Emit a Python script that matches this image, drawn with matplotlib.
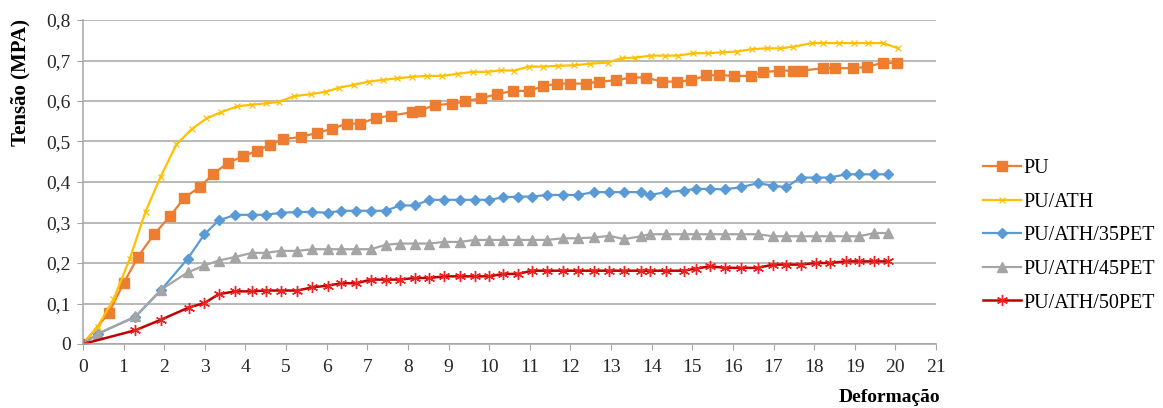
import matplotlib
matplotlib.use("Agg")
import matplotlib.pyplot as plt
from matplotlib.ticker import FuncFormatter, MultipleLocator

plt.rcParams["font.family"] = ["Liberation Serif", "DejaVu Serif"]

# values (deformation, stress in MPa)
pu_x = [0, 0.63, 1.0, 1.35, 1.75, 2.15, 2.49, 2.87, 3.2, 3.56, 3.93, 4.28, 4.61, 4.93,
        5.36, 5.75, 6.12, 6.49, 6.82, 7.21, 7.58, 8.09, 8.29, 8.66, 9.08, 9.41, 9.8,
        10.2, 10.58, 10.97, 11.32, 11.67, 12.0, 12.39, 12.7, 13.11, 13.5, 13.85, 14.25,
        14.62, 14.98, 15.34, 15.65, 16.03, 16.44, 16.75, 17.14, 17.49, 17.69, 18.23,
        18.51, 18.95, 19.31, 19.69, 20.05]
pu_y = [0, 0.076, 0.15, 0.215, 0.271, 0.316, 0.361, 0.387, 0.419, 0.447, 0.463, 0.477,
        0.492, 0.506, 0.511, 0.521, 0.531, 0.544, 0.544, 0.558, 0.564, 0.572, 0.576,
        0.590, 0.593, 0.599, 0.607, 0.617, 0.625, 0.625, 0.636, 0.643, 0.643, 0.643,
        0.648, 0.651, 0.658, 0.658, 0.648, 0.648, 0.651, 0.663, 0.664, 0.662, 0.662,
        0.671, 0.675, 0.675, 0.675, 0.681, 0.681, 0.681, 0.684, 0.695, 0.693]

ath_x = [0, 0.36, 0.75, 1.15, 1.54, 1.91, 2.3, 2.68, 3.04, 3.39, 3.8, 4.17, 4.5, 4.83,
         5.2, 5.61, 5.98, 6.31, 6.67, 7.04, 7.39, 7.74, 8.11, 8.48, 8.85, 9.22, 9.59,
         9.96, 10.29, 10.62, 10.97, 11.32, 11.69, 12.08, 12.47, 12.92, 13.27, 13.58,
         13.99, 14.32, 14.65, 15.02, 15.39, 15.72, 16.09, 16.46, 16.83, 17.16, 17.49,
         17.94, 18.23, 18.6, 18.97, 19.33, 19.7, 20.07]
ath_y = [0, 0.043, 0.11, 0.21, 0.327, 0.413, 0.493, 0.531, 0.557, 0.572, 0.587, 0.591,
         0.594, 0.598, 0.612, 0.617, 0.623, 0.633, 0.640, 0.648, 0.652, 0.656, 0.660,
         0.662, 0.662, 0.667, 0.672, 0.672, 0.676, 0.675, 0.685, 0.685, 0.687, 0.688,
         0.692, 0.695, 0.706, 0.707, 0.712, 0.712, 0.712, 0.718, 0.718, 0.720, 0.722,
         0.728, 0.730, 0.730, 0.734, 0.743, 0.743, 0.743, 0.743, 0.743, 0.743, 0.730]

p35_x = [0, 0.36, 1.29, 1.92, 2.58, 2.99, 3.34, 3.75, 4.16, 4.5, 4.87, 5.28, 5.65, 6.02,
         6.36, 6.73, 7.09, 7.45, 7.8, 8.17, 8.52, 8.89, 9.28, 9.65, 10.0, 10.34, 10.71,
         11.05, 11.42, 11.81, 12.18, 12.59, 12.96, 13.32, 13.74, 13.95, 14.36, 14.79,
         15.09, 15.43, 15.8, 16.19, 16.61, 16.99, 17.31, 17.67, 18.05, 18.39, 18.78,
         19.11, 19.48, 19.83]
p35_y = [0, 0.025, 0.067, 0.133, 0.211, 0.271, 0.305, 0.319, 0.319, 0.319, 0.324, 0.326,
         0.326, 0.324, 0.329, 0.329, 0.329, 0.329, 0.342, 0.342, 0.356, 0.356, 0.356,
         0.356, 0.356, 0.362, 0.364, 0.364, 0.368, 0.368, 0.368, 0.375, 0.375, 0.375,
         0.375, 0.368, 0.375, 0.379, 0.383, 0.383, 0.382, 0.387, 0.397, 0.391, 0.387,
         0.411, 0.411, 0.411, 0.419, 0.419, 0.419, 0.419]

p45_x = p35_x
p45_y = [0, 0.025, 0.068, 0.134, 0.177, 0.194, 0.206, 0.215, 0.225, 0.225, 0.230, 0.230,
         0.234, 0.234, 0.234, 0.234, 0.234, 0.245, 0.248, 0.248, 0.248, 0.252, 0.252,
         0.257, 0.257, 0.257, 0.257, 0.257, 0.257, 0.261, 0.261, 0.263, 0.267, 0.259,
         0.266, 0.271, 0.271, 0.271, 0.271, 0.271, 0.271, 0.271, 0.271, 0.266, 0.266,
         0.266, 0.266, 0.266, 0.266, 0.266, 0.274, 0.274]

p50_x = [0, 1.29, 1.92, 2.6, 2.99, 3.34, 3.75, 4.16, 4.5, 4.87, 5.28, 5.65, 6.02, 6.36,
         6.73, 7.09, 7.45, 7.8, 8.17, 8.52, 8.89, 9.28, 9.65, 10.0, 10.34, 10.71, 11.05,
         11.42, 11.81, 12.18, 12.59, 12.96, 13.32, 13.74, 13.95, 14.36, 14.79, 15.09,
         15.43, 15.8, 16.19, 16.61, 16.99, 17.31, 17.67, 18.05, 18.39, 18.78, 19.11,
         19.48, 19.83]
p50_y = [0, 0.034, 0.060, 0.090, 0.101, 0.123, 0.130, 0.130, 0.132, 0.132, 0.132, 0.140,
         0.144, 0.150, 0.150, 0.159, 0.159, 0.159, 0.163, 0.163, 0.167, 0.167, 0.167,
         0.167, 0.173, 0.173, 0.181, 0.181, 0.181, 0.181, 0.181, 0.181, 0.181, 0.181,
         0.181, 0.181, 0.181, 0.186, 0.192, 0.188, 0.188, 0.188, 0.196, 0.196, 0.196,
         0.200, 0.200, 0.204, 0.204, 0.204, 0.204]

labels = ["PU", "PU/ATH", "PU/ATH/35PET", "PU/ATH/45PET", "PU/ATH/50PET"]

fig = plt.figure(figsize=(11.63, 4.08), dpi=100)
ax = fig.add_axes([83 / 1163, 64 / 408, 853 / 1163, 324 / 408])

grid_c = "#a6a6a6"
ax.plot(pu_x, pu_y, color="#ed7d31", lw=1.6, marker="s", ms=6.5, label=labels[0])
ax.plot(ath_x, ath_y, color="#ffc000", lw=1.6, marker="x", ms=5, mew=0.9, label=labels[1])
ax.plot(p35_x, p35_y, color="#5b9bd5", lw=1.6, marker="D", ms=5, label=labels[2])
ax.plot(p45_x, p45_y, color="#a5a5a5", lw=1.6, marker="^", ms=7, label=labels[3])
ax.plot(p50_x, p50_y, color="#c00000", lw=1.8, marker=(6, 2, 0), ms=8, mew=1.0,
        mec="#ee2222", label=labels[4])

ax.set_xlim(0, 21)
ax.set_ylim(0, 0.8)
ax.xaxis.set_major_locator(MultipleLocator(1))
ax.yaxis.set_major_locator(MultipleLocator(0.1))
ax.yaxis.set_major_formatter(FuncFormatter(lambda v, p: "0" if abs(v) < 1e-9 else f"{v:.1f}".replace(".", ",")))
ax.grid(axis="y", color=grid_c, lw=1.1)
ax.set_axisbelow(True)
for s in ["top", "right"]:
    ax.spines[s].set_visible(False)
for s in ["left", "bottom"]:
    ax.spines[s].set_color(grid_c)
    ax.spines[s].set_linewidth(1.1)
ax.tick_params(axis="x", length=4, color=grid_c, labelsize=14, pad=7, labelcolor="#262626")
ax.tick_params(axis="y", length=4, color=grid_c, labelsize=14, pad=5, labelcolor="#262626")

fig.text(20 / 1163, 1 - 83 / 408, "Tensão (MPA)", rotation=90, ha="center", va="center",
         fontsize=15, fontweight="bold")
fig.text(940 / 1163, 1 - 398 / 408, "Deformação", ha="right", va="center",
         fontsize=14, fontweight="bold")

fig.legend(loc="upper left", bbox_to_anchor=(975 / 1163, 1 - 151 / 408), frameon=False,
           fontsize=14.5, handlelength=1.9, handletextpad=0.1, labelspacing=0.72,
           borderaxespad=0)

fig.savefig("out.png", dpi=100)
